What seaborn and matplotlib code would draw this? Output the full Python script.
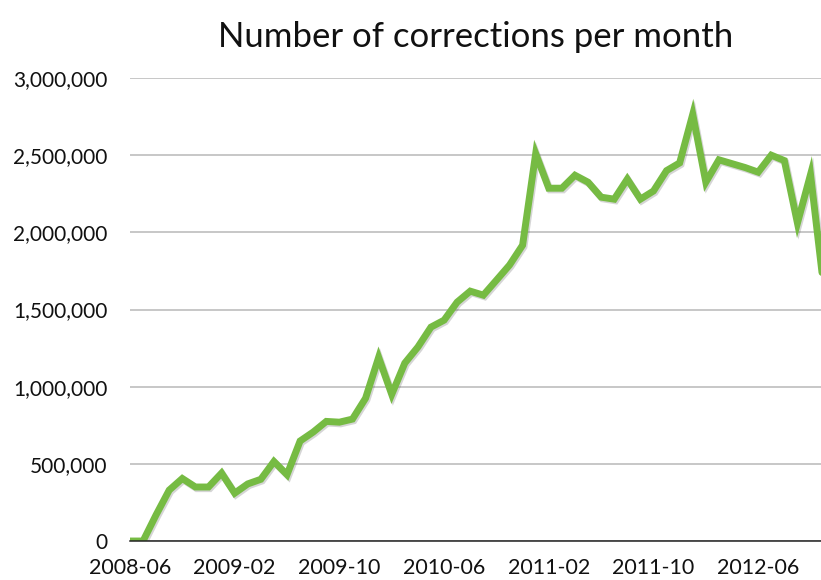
import numpy as np
import pandas as pd
import seaborn as sns
import matplotlib.pyplot as plt
import matplotlib.patheffects as pe
from matplotlib.ticker import FuncFormatter

# monthly corrections, 2008-06 .. 2012-11
months = pd.period_range('2008-06', '2012-11', freq='M').strftime('%Y-%m').tolist()
corrections = [
    0, 0, 170000, 330000, 405000, 350000, 350000, 440000, 310000, 370000,
    400000, 515000, 430000, 648000, 706000, 775000, 770000, 790000, 925000, 1190000,
    950000, 1153000, 1257000, 1386000, 1431000, 1548000, 1619000, 1593000, 1690000, 1788000,
    1917000, 2510000, 2286000, 2286000, 2370000, 2325000, 2228000, 2215000, 2345000, 2215000,
    2268000, 2400000, 2450000, 2765000, 2325000, 2470000, 2445000, 2420000, 2390000, 2500000,
    2465000, 2060000, 2375000, 1650000,
]
tick_every = 8

df = pd.DataFrame({'i': range(len(months)), 'month': months, 'corrections': corrections})

sns.set_theme(style='white')
plt.rcParams['font.family'] = ['Lato', 'DejaVu Sans']

fig = plt.figure(figsize=(8.21, 5.80), dpi=100)
ax = fig.add_axes([0.1583, 0.0672, 0.8417, 0.7983])

sns.lineplot(data=df, x='i', y='corrections', ax=ax, color='#76BB43', linewidth=5.0,
             solid_joinstyle='miter',
             path_effects=[pe.SimpleLineShadow(offset=(1.0, -1.2), alpha=0.22, shadow_color='#444444'),
                           pe.Normal()])

ax.set_xlim(0, 52.8)
ax.set_ylim(0, 3000000)
ax.set_yticks(np.arange(0, 3000001, 500000))
ax.yaxis.set_major_formatter(FuncFormatter(lambda v, p: f'{int(v):,}'))
ticks = df['i'][::tick_every]
ax.set_xticks(ticks)
ax.set_xticklabels(df['month'][::tick_every])

ax.grid(axis='y', color='#b8b8b8', linewidth=1.1)
ax.grid(axis='x', visible=False)
for s in ['left', 'right', 'top']:
    ax.spines[s].set_visible(False)
ax.spines['bottom'].set_color('#222222')
ax.spines['bottom'].set_linewidth(1.1)
ax.spines['bottom'].set_zorder(3)
ax.tick_params(axis='y', length=0, pad=16, labelsize=15, labelcolor='#111111')
ax.tick_params(axis='x', length=0, pad=12, labelsize=15.5, labelcolor='#111111')
ax.set_xlabel('')
ax.set_ylabel('')
ax.set_title('Number of corrections per month', fontsize=25, pad=22, color='#111111')

fig.savefig('out.png', dpi=100)
